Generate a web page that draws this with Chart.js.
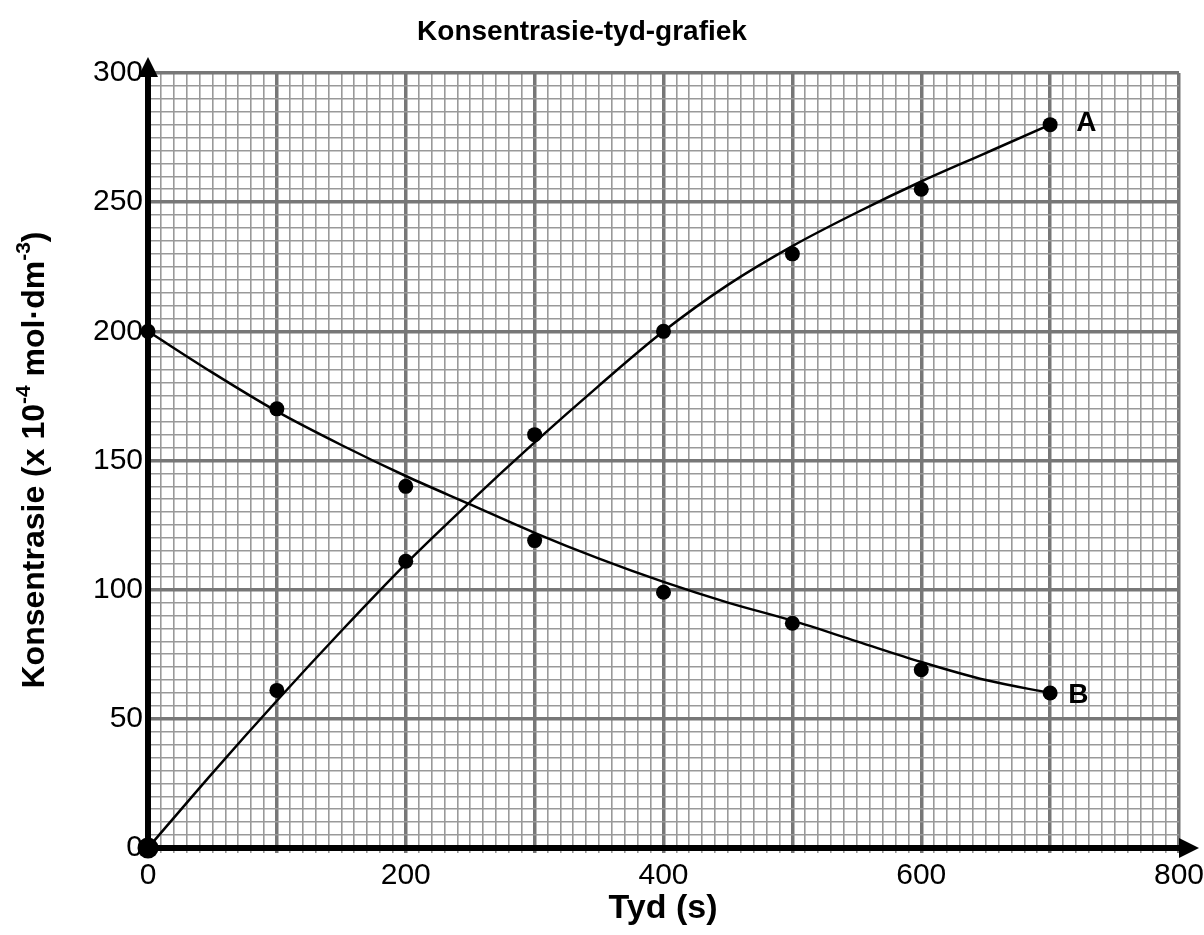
<!DOCTYPE html>
<html>
<head>
<meta charset="utf-8">
<script src="https://cdn.jsdelivr.net/npm/chart.js"></script>
<style>
  body { margin: 0; background: #fff; }
  #wrap { width: 1204px; height: 935px; }
</style>
</head>
<body>
<div id="wrap"><canvas id="chart"></canvas></div>
<script>
// measured points (time in s, concentration x 10^-4 mol/dm3)
const times = [0, 100, 200, 300, 400, 500, 600, 700];
const pointsA = [0, 61, 111, 160, 200, 230, 255, 280];
const pointsB = [200, 170, 140, 119, 99, 87, 69, 60];

// hand-drawn best-fit curves
const curveTimes = [0, 50, 100, 150, 200, 250, 300, 350, 400, 450, 500, 550, 600, 650, 700];
const curveA = [0, 29, 57, 84, 110, 134, 157, 179, 200, 218, 233, 246, 258, 269, 280];
const curveB = [200, 184, 169, 156, 144, 133, 122, 112, 103, 95, 88, 80, 72, 65, 60];

const FONT = "'Liberation Sans', Arial, sans-serif";

function toXY(xs, ys) {
  return xs.map((x, i) => ({ x: x, y: ys[i] }));
}

// title, axis titles, axis arrows and the A / B labels
const decorPlugin = {
  id: "decor",
  afterDatasetsDraw(chart) {
    const ctx = chart.ctx;
    const area = chart.chartArea;
    const xs = chart.scales.x, ys = chart.scales.y;
    ctx.save();

    // axes with arrows
    ctx.strokeStyle = "#000";
    ctx.fillStyle = "#000";
    ctx.lineWidth = 6;
    ctx.beginPath();
    ctx.moveTo(area.left, area.bottom + 3);
    ctx.lineTo(area.left, 72);
    ctx.moveTo(area.left - 3, area.bottom);
    ctx.lineTo(1182, area.bottom);
    ctx.stroke();
    ctx.beginPath();
    ctx.moveTo(area.left, 57);
    ctx.lineTo(area.left - 10, 77);
    ctx.lineTo(area.left + 10, 77);
    ctx.closePath();
    ctx.fill();
    ctx.beginPath();
    ctx.moveTo(1199, area.bottom);
    ctx.lineTo(1179, area.bottom - 10);
    ctx.lineTo(1179, area.bottom + 10);
    ctx.closePath();
    ctx.fill();

    // title
    ctx.textAlign = "center";
    ctx.textBaseline = "alphabetic";
    ctx.font = "bold 28px " + FONT;
    ctx.fillText("Konsentrasie-tyd-grafiek", 582, 40);

    // x title
    ctx.font = "bold 34px " + FONT;
    ctx.fillText("Tyd (s)", 663, 918);

    // y title with superscripts
    const parts = [
      ["Konsentrasie (x 10", false],
      ["-4", true],
      [" mol\u00b7dm", false],
      ["-3", true],
      [")", false]
    ];
    const size = 32;
    const supSize = 21;
    let total = 0;
    parts.forEach(p => {
      ctx.font = "bold " + (p[1] ? supSize : size) + "px " + FONT;
      total += ctx.measureText(p[0]).width;
    });
    ctx.translate(44, 460);
    ctx.rotate(-Math.PI / 2);
    ctx.textAlign = "left";
    let pos = -total / 2;
    parts.forEach(p => {
      ctx.font = "bold " + (p[1] ? supSize : size) + "px " + FONT;
      ctx.fillText(p[0], pos, p[1] ? -14 : 0);
      pos += ctx.measureText(p[0]).width;
    });
    ctx.setTransform(1, 0, 0, 1, 0, 0);

    // curve labels next to the last points
    ctx.font = "bold 28px " + FONT;
    ctx.textAlign = "left";
    ctx.textBaseline = "middle";
    const last = times.length - 1;
    ctx.fillText("A", xs.getPixelForValue(times[last]) + 26, ys.getPixelForValue(pointsA[last]) - 1);
    ctx.fillText("B", xs.getPixelForValue(times[last]) + 18, ys.getPixelForValue(pointsB[last]) + 2);

    ctx.restore();
  }
};

const majorColor = "#777777";
const minorColor = "#999999";

new Chart(document.getElementById("chart").getContext("2d"), {
  type: "scatter",
  data: {
    datasets: [
      {
        type: "line",
        data: toXY(curveTimes, curveA),
        borderColor: "#000",
        borderWidth: 2.5,
        pointRadius: 0,
        cubicInterpolationMode: "monotone",
        fill: false
      },
      {
        type: "line",
        data: toXY(curveTimes, curveB),
        borderColor: "#000",
        borderWidth: 2.5,
        pointRadius: 0,
        cubicInterpolationMode: "monotone",
        fill: false
      },
      {
        data: toXY(times, pointsA),
        backgroundColor: "#000",
        borderColor: "#000",
        pointRadius: times.map(t => (t === 0 ? 10.5 : 7.5)),
        borderWidth: 0,
        clip: false
      },
      {
        data: toXY(times, pointsB),
        backgroundColor: "#000",
        borderColor: "#000",
        pointRadius: 7.5,
        borderWidth: 0,
        clip: false
      }
    ]
  },
  options: {
    responsive: true,
    maintainAspectRatio: false,
    animation: false,
    layout: { padding: { top: 73, right: 25, bottom: 0, left: 0 } },
    plugins: {
      legend: { display: false },
      tooltip: { enabled: false },
      title: { display: false }
    },
    scales: {
      x: {
        type: "linear",
        min: 0,
        max: 800,
        afterFit: s => {
          s.height = 87;
          s.paddingRight = 0;
          s.paddingLeft = 0;
        },
        border: { display: false },
        grid: {
          color: c => (c.tick && c.tick.value % 100 === 0 ? majorColor : minorColor),
          lineWidth: c => (c.tick && c.tick.value % 100 === 0 ? 3.5 : 1.6),
          tickLength: 5
        },
        ticks: {
          stepSize: 10,
          autoSkip: false,
          maxRotation: 0,
          minRotation: 0,
          padding: 5,
          color: "#000",
          font: { family: FONT, size: 30 },
          callback: v => (v % 200 === 0 ? v : "")
        }
      },
      y: {
        min: 0,
        max: 300,
        afterFit: s => { s.width = 148; },
        border: { display: false },
        grid: {
          color: c => (c.tick && c.tick.value % 50 === 0 ? majorColor : minorColor),
          lineWidth: c => (c.tick && c.tick.value % 50 === 0 ? 3.5 : 1.6),
          tickLength: 0
        },
        ticks: {
          stepSize: 5,
          autoSkip: false,
          padding: 5,
          color: "#000",
          font: { family: FONT, size: 30 },
          callback: v => (v % 50 === 0 ? v : "")
        }
      }
    }
  },
  plugins: [decorPlugin]
});
</script>
</body>
</html>
